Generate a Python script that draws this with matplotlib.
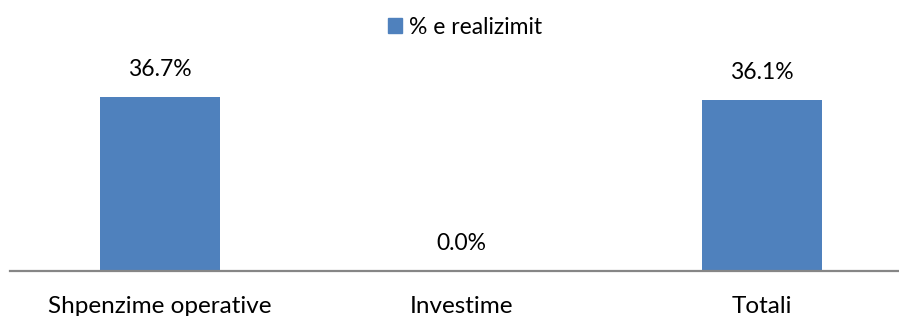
import matplotlib
matplotlib.use("Agg")
import matplotlib.pyplot as plt
from matplotlib.patches import Patch

categories = ["Shpenzime operative", "Investime", "Totali"]
values = [36.7, 0.0, 36.1]
labels = ["36.7%", "0.0%", "36.1%"]
series_name = "% e realizimit"

plt.rcParams['font.family'] = ['Lato', 'DejaVu Sans']

W, H = 899, 316
fig = plt.figure(figsize=(W / 100, H / 100), dpi=100)
left_px = 9.5
spacing = 301.0
right_px = 899.0
bottom_px = 270.5
top_px = 60.0
ax = fig.add_axes([left_px / W, (H - bottom_px) / H, (right_px - left_px) / W, (bottom_px - top_px) / H])
x = list(range(len(categories)))
color = "#4F81BD"
ax.bar(x, values, width=120 / spacing, color=color, zorder=2)
ax.set_xlim(-0.5, -0.5 + (right_px - left_px) / spacing)
ymax = (bottom_px - top_px) / 4.736
ax.set_ylim(0, ymax)

for xi, v, lab in zip(x, values, labels):
    ax.annotate(lab, (xi, v), xytext=(0, 19.5), textcoords="offset points",
                ha="center", va="center", fontsize=16.5, color="#000000")

for s in ["top", "right", "left"]:
    ax.spines[s].set_visible(False)
ax.spines["bottom"].set_color("#868686")
ax.spines["bottom"].set_linewidth(1.6)
ax.set_yticks([])
ax.set_xticks(x)
ax.set_xticklabels(categories, fontsize=17.5)
ax.tick_params(axis="x", length=0, pad=18.5)

fig.legend(handles=[Patch(color=color, label=series_name)], loc="center",
           bbox_to_anchor=(465 / W, (H - 27) / H), frameon=False, fontsize=16.5,
           handlelength=0.6, handleheight=0.6, handletextpad=0.3, borderaxespad=0)

fig.savefig("out.png", dpi=100)
